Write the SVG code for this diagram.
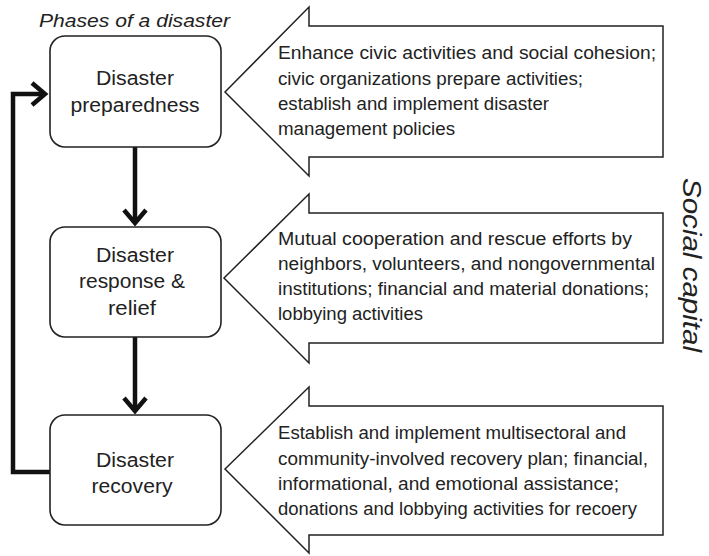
<svg xmlns="http://www.w3.org/2000/svg" width="709" height="556" viewBox="0 0 709 556">
<style>
.box{fill:#fff;stroke:#222;stroke-width:1.6}
.arrow{fill:#fff;stroke:#222;stroke-width:1.5;stroke-linejoin:miter}
.bt{font-family:"Liberation Sans",Arial,sans-serif;font-size:20px;fill:#222;text-anchor:middle}
.at{font-family:"Liberation Sans",Arial,sans-serif;font-size:17.5px;fill:#222}
.it{font-family:"Liberation Sans",Arial,sans-serif;font-style:italic;fill:#222}
.conn{fill:none;stroke:#111;stroke-width:4.5;stroke-linejoin:miter}
</style>
<defs>
<marker id="chev" markerUnits="userSpaceOnUse" markerWidth="22" markerHeight="30" viewBox="0 0 22 30" refX="16" refY="15" orient="auto" overflow="visible">
<path d="M3,4 L16,15 L3,26" fill="none" stroke="#111" stroke-width="4.5" stroke-linejoin="miter"/>
</marker>
</defs>
<rect width="709" height="556" fill="#fff"/>
<text class="it" x="39" y="27" font-size="19" textLength="191" lengthAdjust="spacingAndGlyphs">Phases of a disaster</text>
<text class="it" font-size="25" text-anchor="middle" transform="translate(683,265) rotate(90)" textLength="174" lengthAdjust="spacingAndGlyphs">Social capital</text>
<g id="connectors">
<line class="conn" x1="135" y1="147" x2="135" y2="223" marker-end="url(#chev)"/>
<line class="conn" x1="135" y1="337" x2="135" y2="411" marker-end="url(#chev)"/>
<polyline class="conn" points="50,472 13,472 13,94 45,94" marker-end="url(#chev)"/>
</g>
<g id="node-preparedness">
<rect class="box" x="50" y="36" width="171" height="111" rx="15"/>
<text class="bt" x="135" y="85" textLength="78" lengthAdjust="spacingAndGlyphs">Disaster</text>
<text class="bt" x="135" y="112" textLength="129" lengthAdjust="spacingAndGlyphs">preparedness</text>
</g>
<g id="node-response">
<rect class="box" x="50" y="227" width="171" height="110" rx="15"/>
<text class="bt" x="135" y="262" textLength="78" lengthAdjust="spacingAndGlyphs">Disaster</text>
<text class="bt" x="132" y="288" textLength="106" lengthAdjust="spacingAndGlyphs">response &amp;</text>
<text class="bt" x="132" y="315" textLength="48" lengthAdjust="spacingAndGlyphs">relief</text>
</g>
<g id="node-recovery">
<rect class="box" x="50" y="415" width="171" height="110" rx="15"/>
<text class="bt" x="135" y="467" textLength="78" lengthAdjust="spacingAndGlyphs">Disaster</text>
<text class="bt" x="132" y="493" textLength="81" lengthAdjust="spacingAndGlyphs">recovery</text>
</g>
<g id="node-sc-preparedness">
<polygon class="arrow" points="225,92 309,7 309,26 663,26 663,157 309,157 309,176"/>
<text class="at" x="278" y="59" textLength="378" lengthAdjust="spacingAndGlyphs">Enhance civic activities and social cohesion;</text>
<text class="at" x="278" y="85" textLength="305" lengthAdjust="spacingAndGlyphs">civic organizations prepare activities;</text>
<text class="at" x="278" y="110" textLength="271" lengthAdjust="spacingAndGlyphs">establish and implement disaster</text>
<text class="at" x="278" y="135" textLength="177" lengthAdjust="spacingAndGlyphs">management policies</text>
</g>
<g id="node-sc-response">
<polygon class="arrow" points="224,278 309,194 309,213 663,213 663,343 309,343 309,363"/>
<text class="at" x="278" y="245" textLength="354" lengthAdjust="spacingAndGlyphs">Mutual cooperation and rescue efforts by</text>
<text class="at" x="278" y="270" textLength="377" lengthAdjust="spacingAndGlyphs">neighbors, volunteers, and nongovernmental</text>
<text class="at" x="278" y="295" textLength="371" lengthAdjust="spacingAndGlyphs">institutions; financial and material donations;</text>
<text class="at" x="278" y="320" textLength="145" lengthAdjust="spacingAndGlyphs">lobbying activities</text>
</g>
<g id="node-sc-recovery">
<polygon class="arrow" points="225,469 309,387 309,406 663,406 663,535 309,535 309,553"/>
<text class="at" x="278" y="439" textLength="348" lengthAdjust="spacingAndGlyphs">Establish and implement multisectoral and</text>
<text class="at" x="278" y="465" textLength="370" lengthAdjust="spacingAndGlyphs">community-involved recovery plan; financial,</text>
<text class="at" x="278" y="490" textLength="341" lengthAdjust="spacingAndGlyphs">informational, and emotional assistance;</text>
<text class="at" x="278" y="515" textLength="359" lengthAdjust="spacingAndGlyphs">donations and lobbying activities for recoery</text>
</g>
</svg>
